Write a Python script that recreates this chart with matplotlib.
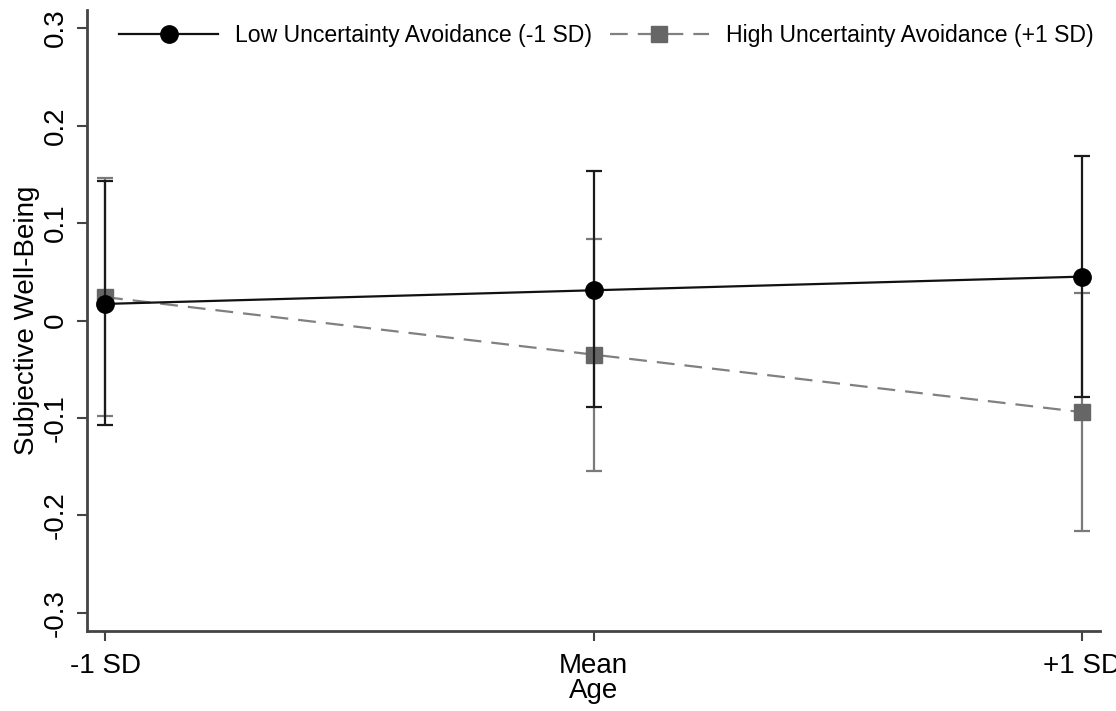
import matplotlib.pyplot as plt
import numpy as np

plt.rcParams['font.family'] = ['Liberation Sans', 'DejaVu Sans']

# Data
positions = [0, 1, 2]
x_labels = ["-1 SD", "Mean", "+1 SD"]

low_mean = [0.017, 0.031, 0.045]
low_upper = [0.143, 0.153, 0.169]
low_lower = [-0.107, -0.089, -0.078]

high_mean = [0.024, -0.035, -0.094]
high_upper = [0.146, 0.084, 0.028]
high_lower = [-0.098, -0.154, -0.216]

y_ticks = [-0.3, -0.2, -0.1, 0, 0.1, 0.2, 0.3]
y_tick_labels = ["-0.3", "-0.2", "-0.1", "0", "0.1", "0.2", "0.3"]

fig = plt.figure(figsize=(11.16, 7.11), dpi=100)
ax = fig.add_axes([87 / 1116, 1 - 631 / 711, (1100 - 87) / 1116, (631 - 10) / 711])

gray = "#666666"
gray_bar = "#7a7a7a"

low_err = [np.array(low_mean) - np.array(low_lower), np.array(low_upper) - np.array(low_mean)]
high_err = [np.array(high_mean) - np.array(high_lower), np.array(high_upper) - np.array(high_mean)]

# High first so low sits on top, as in the reference
ax.errorbar(positions, high_mean, yerr=high_err, fmt="none", ecolor=gray_bar,
            elinewidth=1.6, capsize=6, capthick=1.6, zorder=2)
ax.plot(positions, high_mean, color="#808080", linestyle=(0, (8, 4.5)), linewidth=1.6,
        marker="s", markersize=11.5, markerfacecolor=gray, markeredgecolor=gray,
        label="High Uncertainty Avoidance (+1 SD)", zorder=3)

ax.errorbar(positions, low_mean, yerr=low_err, fmt="none", ecolor="#1a1a1a",
            elinewidth=1.6, capsize=6, capthick=1.6, zorder=4)
ax.plot(positions, low_mean, color="#111111", linestyle="-", linewidth=1.6,
        marker="o", markersize=12.5, markerfacecolor="black", markeredgecolor="black",
        label="Low Uncertainty Avoidance (-1 SD)", zorder=5)

ax.set_xlim(-0.037, 2.037)
ax.set_ylim(-0.3185, 0.3185)
ax.set_xticks(positions)
ax.set_xticklabels(x_labels, fontsize=20)
ax.set_yticks(y_ticks)
ax.set_yticklabels(y_tick_labels, fontsize=20, rotation=90, va="center")

ax.spines["top"].set_visible(False)
ax.spines["right"].set_visible(False)
ax.spines["left"].set_color("#444444")
ax.spines["bottom"].set_color("#444444")
ax.spines["left"].set_linewidth(2)
ax.spines["bottom"].set_linewidth(2)
ax.tick_params(axis="both", length=7, width=1.5, color="#444444")
ax.tick_params(axis="x", pad=9)
ax.tick_params(axis="y", pad=6)

ax.set_xlabel("Age", fontsize=20, labelpad=-1)
ax.set_ylabel("Subjective Well-Being", fontsize=20, labelpad=2)

handles, labels = ax.get_legend_handles_labels()
ax.legend(handles[::-1], labels[::-1], loc="upper left", bbox_to_anchor=(0.018, 1.0),
          ncol=2, frameon=False, fontsize=16.6, handlelength=4.3, columnspacing=0.75,
          handletextpad=0.75, borderaxespad=0.2)

fig.savefig("out.png", dpi=100)
